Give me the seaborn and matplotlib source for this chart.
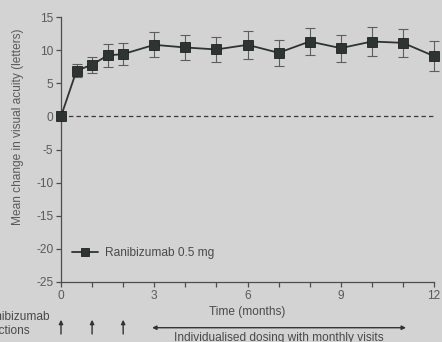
import matplotlib
matplotlib.use("Agg")
import matplotlib.pyplot as plt
import seaborn as sns
import numpy as np
import pandas as pd

months = [0, 0.5, 1, 1.5, 2, 3, 4, 5, 6, 7, 8, 9, 10, 11, 12]
mean_change = [0.0, 6.9, 7.8, 9.2, 9.4, 10.8, 10.4, 10.1, 10.8, 9.6, 11.3, 10.3, 11.3, 11.1, 9.1]
err = [0.0, 1.0, 1.2, 1.75, 1.7, 1.9, 1.9, 1.9, 2.1, 1.95, 2.0, 2.05, 2.15, 2.1, 2.25]
x_ticks = list(range(0, 13))
x_ticklabels = ["0", "", "", "3", "", "", "6", "", "", "9", "", "", "12"]
y_ticks = [-25, -20, -15, -10, -5, 0, 5, 10, 15]
series_name = "Ranibizumab 0.5 mg"
injection_months = [0, 1, 2]

bg = "#d3d3d3"
fg = "#4d4d4d"
dark = "#2e3431"
fs = 8.6

sns.set_theme(style="ticks")
plt.rcParams['font.family'] = ['Liberation Sans', 'DejaVu Sans']

df = pd.DataFrame({"Time (months)": months, "Change": mean_change, "err": err, "Series": series_name})

fig = plt.figure(figsize=(4.42, 3.42), dpi=100, facecolor=bg)
ax = fig.add_axes([61/442, 1-282/342, (434-61)/442, (282-17)/342])
ax.set_facecolor(bg)

eb = ax.errorbar(df["Time (months)"], df["Change"], yerr=df["err"], fmt="none",
                 ecolor="#5e5e5e", elinewidth=0.8, capsize=3.4, capthick=0.8, zorder=2)
for art in list(eb.lines[1]) + list(eb.lines[2]):
    art.set_clip_on(False)
ax.plot([0, 12], [0, 0], ls=(0, (3.5, 2.5)), color="#3a3a3a", lw=0.9, zorder=1)
sns.lineplot(data=df, x="Time (months)", y="Change", hue="Series", palette=[dark],
             marker="s", markersize=6.5, markeredgecolor="#1e2220", markeredgewidth=0.6,
             linewidth=1.3, ax=ax, zorder=3, legend=True)
for ln in ax.get_lines():
    ln.set_clip_on(False)

ax.set_xlim(0, 12)
ax.set_ylim(-25, 15)
ax.set_xticks(x_ticks)
ax.set_xticklabels(x_ticklabels)
ax.set_yticks(y_ticks)
ax.set_yticklabels([str(v) for v in y_ticks])
for s in ["top", "right"]:
    ax.spines[s].set_visible(False)
for s in ["left", "bottom"]:
    ax.spines[s].set_color(fg)
    ax.spines[s].set_linewidth(0.9)
ax.tick_params(axis="both", colors=fg, labelsize=fs, length=3.5, width=0.9, pad=2)
ax.tick_params(axis="both", labelcolor="#5a5a5a")

ax.set_xlabel("Time (months)", fontsize=fs, color="#4a4a4a", labelpad=1)
ax.set_ylabel("Mean change in visual acuity (letters)", fontsize=fs, color="#5a5a5a")
ax.yaxis.set_label_coords(-0.1, 0.585)
ax.xaxis.set_label_coords(0.5, -0.09)

leg = ax.legend(loc="lower left", bbox_to_anchor=(0.0, 0.045), frameon=False,
                fontsize=fs, handlelength=2.2, handletextpad=0.6, borderaxespad=0.5)
for t in leg.get_texts():
    t.set_color("#4a4a4a")
for h in leg.legend_handles:
    h.set_markersize(5.5)

# Annotations below the axes (left-aligned block, partially cut at the figure edge)
renderer = fig.canvas.get_renderer()
probe = fig.text(0, 0, "Ranibizumab", fontsize=fs)
w_px = probe.get_window_extent(renderer).width
probe.remove()
left_px = 50 - w_px
fig.text(left_px/442, 1-317/342, "Ranibizumab", ha="left", va="center", fontsize=fs, color="#4a4a4a")
fig.text(left_px/442, 1-331/342, "injections", ha="left", va="center", fontsize=fs, color="#4a4a4a")
for m in injection_months:
    ax.annotate("", xy=(m, -30.7), xytext=(m, -32.85), xycoords="data", annotation_clip=False,
                arrowprops=dict(arrowstyle="-|>", color="#333333", lw=1.0, mutation_scale=6,
                                shrinkA=0, shrinkB=0))
ax.annotate("", xy=(2.93, -31.9), xytext=(11.1, -31.9), xycoords="data", annotation_clip=False,
            arrowprops=dict(arrowstyle="<|-|>", color="#333333", lw=1.0, mutation_scale=6,
                            shrinkA=0, shrinkB=0))
ax.text(7.0, -32.55, "Individualised dosing with monthly visits", ha="center", va="top",
        fontsize=fs, color="#4a4a4a", clip_on=False)

fig.savefig("out.png", dpi=100, facecolor=bg)
